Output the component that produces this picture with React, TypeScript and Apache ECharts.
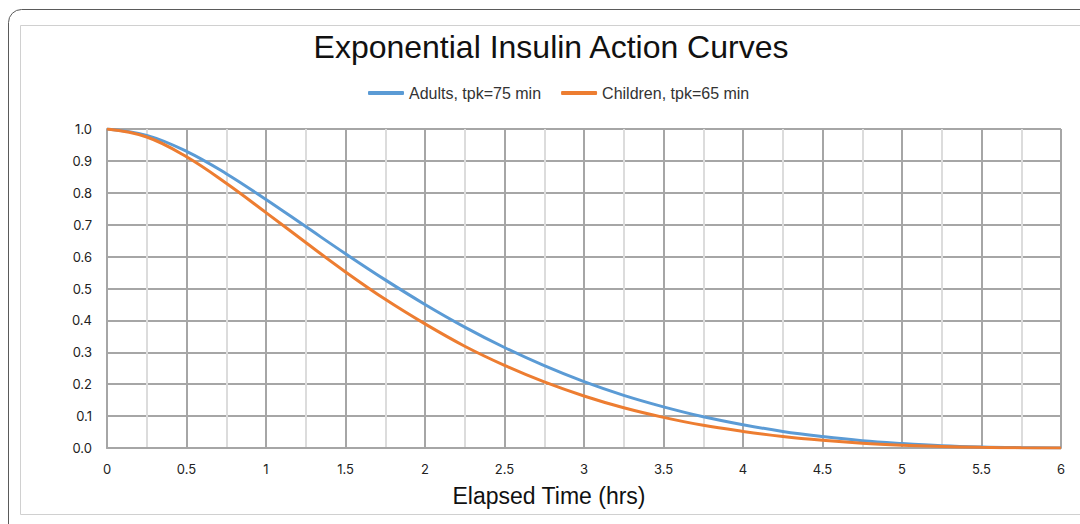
import React, { useEffect, useRef } from "react";
import * as echarts from "echarts";

const hours = [0, 0.25, 0.5, 0.75, 1, 1.25, 1.5, 1.75, 2, 2.25, 2.5, 2.75, 3, 3.25, 3.5, 3.75, 4, 4.25, 4.5, 4.75, 5, 5.25, 5.5, 5.75, 6];
const adults = [1.0, 0.98, 0.93, 0.86, 0.779, 0.694, 0.609, 0.527, 0.45, 0.379, 0.315, 0.258, 0.208, 0.165, 0.129, 0.098, 0.073, 0.052, 0.036, 0.023, 0.014, 0.007, 0.003, 0.001, 0.0];
const children = [1.0, 0.975, 0.913, 0.83, 0.738, 0.644, 0.552, 0.466, 0.389, 0.319, 0.259, 0.207, 0.163, 0.126, 0.096, 0.071, 0.052, 0.036, 0.024, 0.015, 0.009, 0.005, 0.002, 0.0005, 0.0];
const seriesNames = ["Adults, tpk=75 min", "Children, tpk=65 min"];
const titleText = "Exponential Insulin Action Curves";
const xAxisTitle = "Elapsed Time (hrs)";

export default function App() {
  const ref = useRef<HTMLDivElement>(null);
  useEffect(() => {
    document.body.style.margin = "0";
    const chart = echarts.init(ref.current!, undefined, { renderer: "svg" });
    const tickFont = "Inter, 'Noto Sans', sans-serif";
    const arial = "'Liberation Sans', Arial, sans-serif";
    chart.setOption({
      animation: false,
      backgroundColor: "#fff",
      graphic: [
        {
          type: "rect",
          shape: { x: 8.5, y: 9.5, width: 1100, height: 600, r: 13 },
          style: { fill: "none", stroke: "#5a5a5a", lineWidth: 1 },
          silent: true,
          z: -10,
        },
        {
          type: "rect",
          shape: { x: 20.5, y: 25.5, width: 1100, height: 489 },
          style: { fill: "none", stroke: "#d0d0d0", lineWidth: 1 },
          silent: true,
          z: -10,
        },
        {
          type: "text",
          x: 551,
          y: 47,
          style: {
            text: titleText,
            fontFamily: arial,
            fontSize: 32,
            fill: "#111",
            align: "center",
            verticalAlign: "middle",
          },
          silent: true,
        },
        {
          type: "text",
          x: 549,
          y: 496,
          style: {
            text: xAxisTitle,
            fontFamily: arial,
            fontSize: 23,
            fill: "#111",
            align: "center",
            verticalAlign: "middle",
          },
          silent: true,
        },
      ],
      legend: {
        top: 80,
        left: 363,
        itemWidth: 36,
        itemHeight: 4,
        itemGap: 20,
        icon: "roundRect",
        textStyle: { fontFamily: arial, fontSize: 16, color: "#333" },
        data: seriesNames,
      },
      grid: { left: 107, right: 19, top: 129, bottom: 76 },
      xAxis: {
        type: "value",
        min: 0,
        max: 6,
        interval: 0.5,
        axisLine: { show: true, lineStyle: { color: "#a6a6a6", width: 2 } },
        axisTick: { show: false },
        axisLabel: { margin: 14, fontFamily: tickFont, fontSize: 13, color: "#222" },
        splitLine: { show: true, lineStyle: { color: "#a6a6a6", width: 2 } },
        minorTick: { show: false, splitNumber: 2 },
        minorSplitLine: { show: true, lineStyle: { color: "#dcdcdc", width: 2 } },
      },
      yAxis: {
        type: "value",
        min: 0,
        max: 1,
        interval: 0.1,
        axisLine: { show: true, lineStyle: { color: "#a6a6a6", width: 2 } },
        axisTick: { show: false },
        axisLabel: {
          margin: 15,
          fontFamily: tickFont,
          fontSize: 13,
          color: "#222",
          formatter: (v: number) => v.toFixed(1),
        },
        splitLine: { show: true, lineStyle: { color: "#a6a6a6", width: 2 } },
      },
      series: [
        {
          name: seriesNames[0],
          type: "line",
          smooth: 0.4,
          showSymbol: false,
          lineStyle: { color: "#5b9bd5", width: 3 },
          itemStyle: { color: "#5b9bd5" },
          data: hours.map((h, i) => [h, adults[i]]),
          z: 3,
        },
        {
          name: seriesNames[1],
          type: "line",
          smooth: 0.4,
          showSymbol: false,
          lineStyle: { color: "#ed7d31", width: 3 },
          itemStyle: { color: "#ed7d31" },
          data: hours.map((h, i) => [h, children[i]]),
          z: 4,
        },
      ],
    });
    return () => chart.dispose();
  }, []);
  return <div ref={ref} style={{ position: "absolute", left: 0, top: 0, width: 1080, height: 524 }} />;
}
